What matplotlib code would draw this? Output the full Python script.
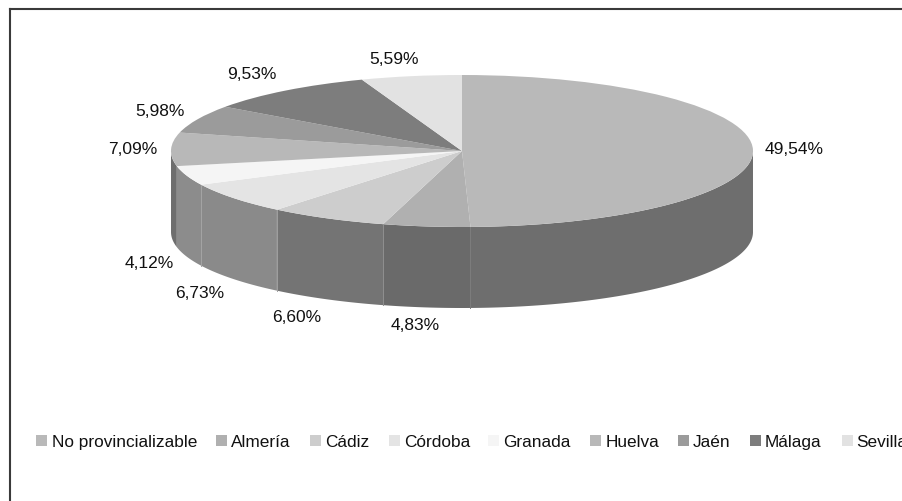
import numpy as np
import matplotlib.pyplot as plt
from matplotlib.patches import Rectangle

plt.rcParams['font.family'] = ['Liberation Sans', 'DejaVu Sans']

labels = ['No provincializable', 'Almería', 'Cádiz', 'Córdoba', 'Granada', 'Huelva', 'Jaén', 'Málaga', 'Sevilla']
values = [49.54, 4.83, 6.60, 6.73, 4.12, 7.09, 5.98, 9.53, 5.59]
value_labels = ['49,54%', '4,83%', '6,60%', '6,73%', '4,12%', '7,09%', '5,98%', '9,53%', '5,59%']
top_colors = ['#b9b9b9', '#b0b0b0', '#cdcdcd', '#e4e4e4', '#f5f5f5', '#b8b8b8', '#9b9b9b', '#7d7d7d', '#e2e2e2']
side_colors = ['#6e6e6e', '#6a6a6a', '#747474', '#8a8a8a', '#8c8c8c', '#6e6e6e', '#6e6e6e', '#6e6e6e', '#6e6e6e']
seam_colors = ['#7c7c7c', '#8f8f8f', '#a0a0a0', '#a4a4a4', None, None, None, None, None]

W, H = 903, 501
fig = plt.figure(figsize=(W / 100, H / 100), dpi=100)

# axes in pixels, whole figure
ax = fig.add_axes([0, 0, 1, 1])
ax.set_xlim(0, W)
ax.set_ylim(H, 0)
ax.axis('off')

cx, cy, rx, ry, depth = 462, 151, 291, 76, 81

# side wall first, only the front half shows
start = 0
for v, c, seam in zip(values, side_colors, seam_colors):
    a = np.radians(np.linspace(start, start + v * 3.6, 200))
    start += v * 3.6
    a = a[(a >= np.pi / 2) & (a <= 3 * np.pi / 2)]
    if len(a) < 2:
        continue
    x = cx + rx * np.sin(a)
    y = cy - ry * np.cos(a)
    ax.fill(np.r_[x, x[::-1]], np.r_[y, y[::-1] + depth], color=c, lw=0, zorder=1)
    if seam:
        ax.plot([x[-1], x[-1]], [y[-1], y[-1] + depth], color=seam, lw=0.7, zorder=2)

# top of the pie, an axes the size of the ellipse squeezes the circle
ax_top = fig.add_axes([(cx - rx) / W, 1 - (cy + ry) / H, 2 * rx / W, 2 * ry / H])
ax_top.pie(values, colors=top_colors, startangle=90, counterclock=False,
           radius=1, wedgeprops={'linewidth': 0, 'clip_on': False})
ax_top.set_aspect('auto')
ax_top.set_xlim(-1, 1)
ax_top.set_ylim(-1, 1)
ax_top.axis('off')

label_x = [794, 415, 297, 200, 149, 133, 160, 252, 394]
label_y = [149, 325, 317, 294, 263, 150, 111, 74, 59]
for s, x, y in zip(value_labels, label_x, label_y):
    ax.text(x, y, s, ha='center', va='center', fontsize=12.5, color='#111111', zorder=5)

# legend, runs off the right edge like the original
swatch_x = [36, 216, 310, 389, 488, 590, 678, 750, 842]
text_x = [52, 231, 325, 404, 503, 606, 693, 765, 856]
for s, c, sx, tx in zip(labels, top_colors, swatch_x, text_x):
    ax.add_patch(Rectangle((sx, 435), 11, 11, facecolor=c, edgecolor='none', zorder=5))
    ax.text(tx, 447, s, ha='left', va='baseline', fontsize=12.4, color='#111111', zorder=5, clip_on=True)

# frame of the chart area
ax.plot([10, 10], [H, 9], color='#3a3a3a', lw=1.5, zorder=6, solid_capstyle='projecting')
ax.plot([10, W], [9, 9], color='#3a3a3a', lw=1.5, zorder=6, solid_capstyle='projecting')

fig.savefig('out.png', dpi=100)
